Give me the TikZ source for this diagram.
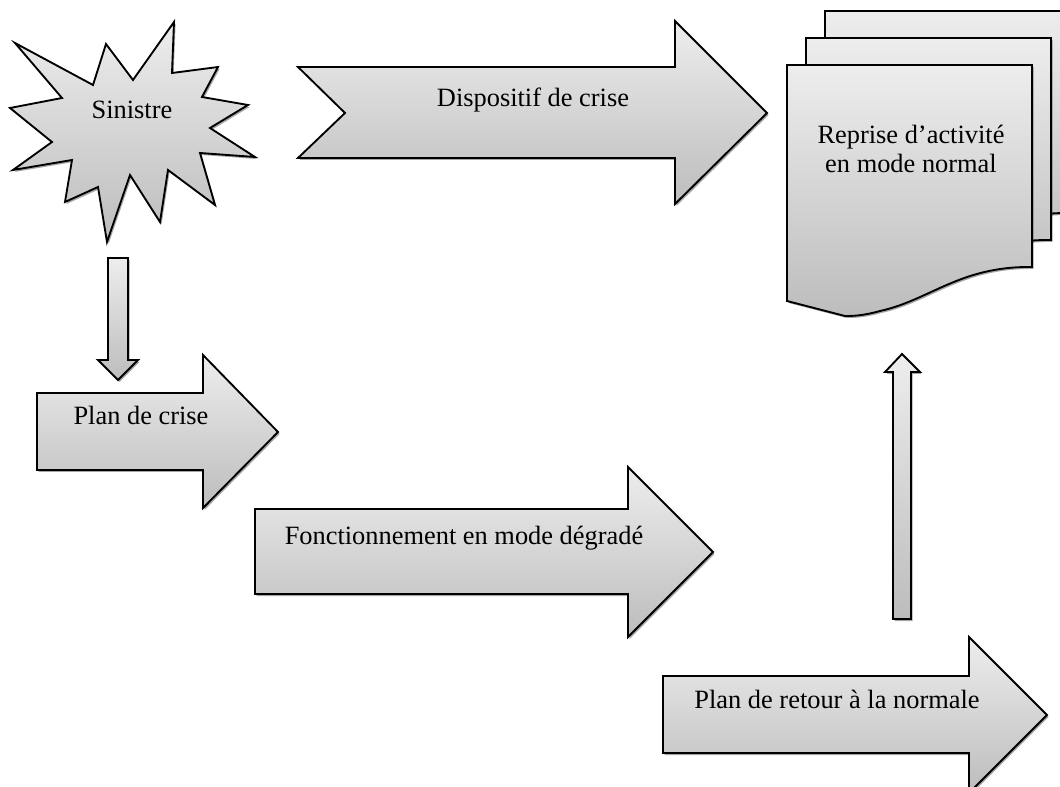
\documentclass[tikz,border=0pt]{standalone}
\usepackage{fontspec}
\setmainfont{Liberation Serif}
\usetikzlibrary{shadows}
\definecolor{shadetop}{gray}{0.93}
\definecolor{shadebottom}{gray}{0.74}

\begin{document}
\begin{tikzpicture}[
    x=0.75pt, y=-0.75pt, line width=1.4pt, line join=miter,
    block/.style={draw=black, top color=shadetop, bottom color=shadebottom,
        drop shadow={shadow xshift=1.2pt, shadow yshift=-1.5pt, fill=black, opacity=0.35}},
    every node/.style={align=center, inner sep=0pt, font=\fontsize{19.8}{21.5}\selectfont},
    lbl/.style={anchor=base}
]
\useasboundingbox (0,0) rectangle (1060,787);
\clip (0,0) rectangle (1060,787);

% sinistre (starburst)
\path[block] (15,43) -- (93,85) -- (106,44) -- (133,80) -- (174,22) -- (172,73) -- (218,67) -- (202,97)
    -- (248,105) -- (210,128) -- (255,157) -- (200,153) -- (215,205) -- (168,170) -- (160,222) -- (130,175)
    -- (107,242) -- (98,187) -- (65,202) -- (72,160) -- (13,170) -- (52,142) -- (10,108) -- (62,98) -- cycle;
\node (sinistre) [lbl] at (132,119) {Sinistre};

% dispositif de crise
\path[block] (298,67) -- (675,67) -- (675,21) -- (767,113) -- (675,204) -- (675,158) -- (298,158) -- (345,113) -- cycle;
\node (dispositif) [lbl] at (533,107) {Dispositif de crise};

% reprise d'activite (pile of pages)
\path[block, shift={(38,-54)}] (787,65) -- (1032,65) -- (1032,267) .. controls (960,266) and (930,300) .. (880,311)
    .. controls (862,316) and (852,316) .. (845,316) -- (787,301) -- cycle;
\path[block, shift={(19,-27)}] (787,65) -- (1032,65) -- (1032,267) .. controls (960,266) and (930,300) .. (880,311)
    .. controls (862,316) and (852,316) .. (845,316) -- (787,301) -- cycle;
\path[block] (787,65) -- (1032,65) -- (1032,267) .. controls (960,266) and (930,300) .. (880,311)
    .. controls (862,316) and (852,316) .. (845,316) -- (787,301) -- cycle;
\node (reprise) at (911,149) {Reprise d’activité\\en mode normal};

% sinistre -> plan de crise
\path[block] (108,258) -- (128,258) -- (128,360) -- (138,360) -- (118,380) -- (98,360) -- (108,360) -- cycle;

% plan de crise
\path[block] (37,393) -- (203,393) -- (203,355) -- (278,432) -- (203,508) -- (203,470) -- (37,470) -- cycle;
\node (plancrise) [lbl] at (141,425) {Plan de crise};

% fonctionnement en mode degrade
\path[block] (255,509) -- (628,509) -- (628,467) -- (713,552) -- (628,637) -- (628,594) -- (255,594) -- cycle;
\node (fonctionnement) [lbl] at (464,544) {Fonctionnement en mode dégradé};

% plan de retour -> reprise
\path[block] (893,619) -- (893,372) -- (885,372) -- (902,354) -- (920,372) -- (911,372) -- (911,619) -- cycle;

% plan de retour a la normale
\path[block] (663,676) -- (969,676) -- (969,637) -- (1047,715) -- (969,793) -- (969,753) -- (663,753) -- cycle;
\node (planretour) [lbl] at (837,708) {Plan de retour à la normale};
\end{tikzpicture}
\end{document}
